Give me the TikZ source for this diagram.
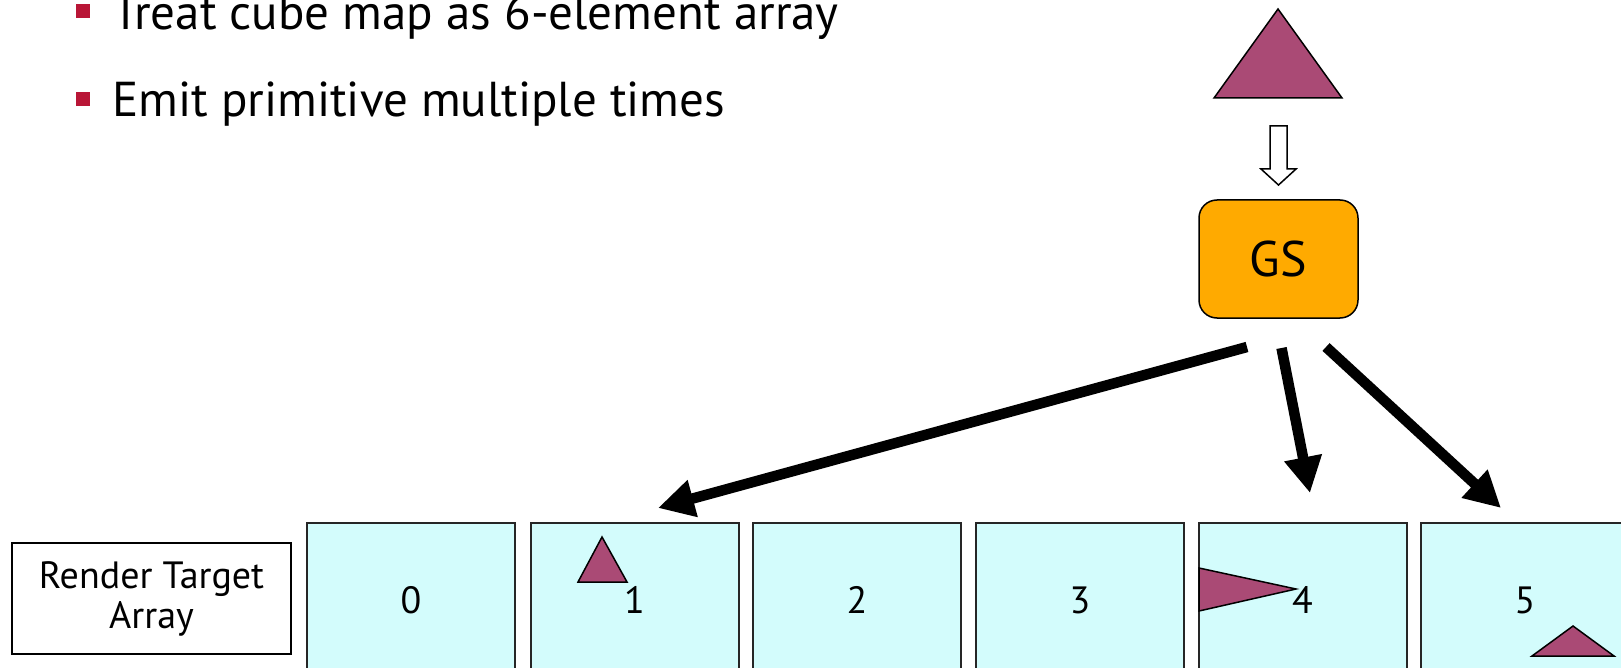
\documentclass[tikz,border=0pt]{standalone}
\usepackage{fontspec}
\setmainfont{PT Sans}
\usetikzlibrary{arrows.meta}
\definecolor{tri}{RGB}{170,74,117}
\definecolor{cellfill}{RGB}{211,252,252}
\definecolor{gsfill}{RGB}{255,170,0}
\definecolor{bullet}{RGB}{185,22,55}
\tikzset{
  bulletsq/.style={fill=bullet,minimum width=14pt,minimum height=14pt,inner sep=0pt},
  bullettext/.style={anchor=base west,inner sep=0pt,font=\fontsize{49}{58}\selectfont},
  cell/.style={draw=black!85,line width=2pt,fill=cellfill,minimum width=208pt,minimum height=154pt,inner sep=0pt,font=\fontsize{38}{42}\selectfont},
  tris/.style={fill=tri,draw=black,line width=1.5pt,line join=miter},
  gsbox/.style={draw=black,line width=1.5pt,fill=gsfill,rounded corners=18pt,minimum width=159pt,minimum height=118pt,font=\fontsize{50}{54}\selectfont},
  labelbox/.style={draw=black,line width=1.5pt,fill=white,minimum width=279pt,minimum height=111pt,align=center,font=\fontsize{38}{40}\selectfont},
  bigarrow/.style={line width=10.5pt,-{Triangle[length=36pt,width=36pt]}},
}
\begin{document}
\begin{tikzpicture}[x=1pt,y=-1pt]
\clip (0,0) rectangle (1621,668);
\fill[white] (0,0) rectangle (1621,668);
% bullets
\node[bulletsq] (b1) at (82.5,11.3) {};
\node[bullettext] (t1) at (112,29.3) {Treat cube map as 6-element array};
\node[bulletsq] (b2) at (82.5,99.3) {};
\node[bullettext] (t2) at (112,116.7) {Emit primitive multiple times};
% top triangle
\draw[tris] (1278,9) -- (1342,98) -- (1214,98) -- cycle;
% hollow arrow
\draw[line width=1.5pt,fill=white,line join=miter] (1270,126) -- (1287,126) -- (1287,169) -- (1296,169) -- (1278.5,185) -- (1261,169) -- (1270,169) -- cycle;
% GS
\node[gsbox] (gs) at (1278.5,259) {GS};
% label
\node[labelbox] (lab) at (151.5,598.5) {Render Target\\Array};
% cells
\node[cell] (c0) at (411,600) {0};
\node[cell] (c1) at (634.5,600) {1};
\node[cell] (c2) at (857,600) {2};
\node[cell] (c3) at (1080,600) {3};
\node[cell] (c4) at (1302.5,600) {4};
\node[cell] (c5) at (1525,600) {5};
% triangles in cells
\draw[tris] (602,537) -- (627,582) -- (578,582) -- cycle;
\draw[tris] (1199,568) -- (1296,589) -- (1199,611) -- cycle;
\draw[tris] (1573,626) -- (1614,656) -- (1532,656) -- cycle;
% arrows from GS
\coordinate (s1) at (1247,347);
\coordinate (e1) at (658,508);
\coordinate (s2) at (1281.5,348);
\coordinate (e2) at (1310,493);
\coordinate (s3) at (1326,347);
\coordinate (e3) at (1501,508);
\draw[bigarrow] (s1) -- (e1);
\draw[bigarrow] (s2) -- (e2);
\draw[bigarrow] (s3) -- (e3);
\end{tikzpicture}
\end{document}
